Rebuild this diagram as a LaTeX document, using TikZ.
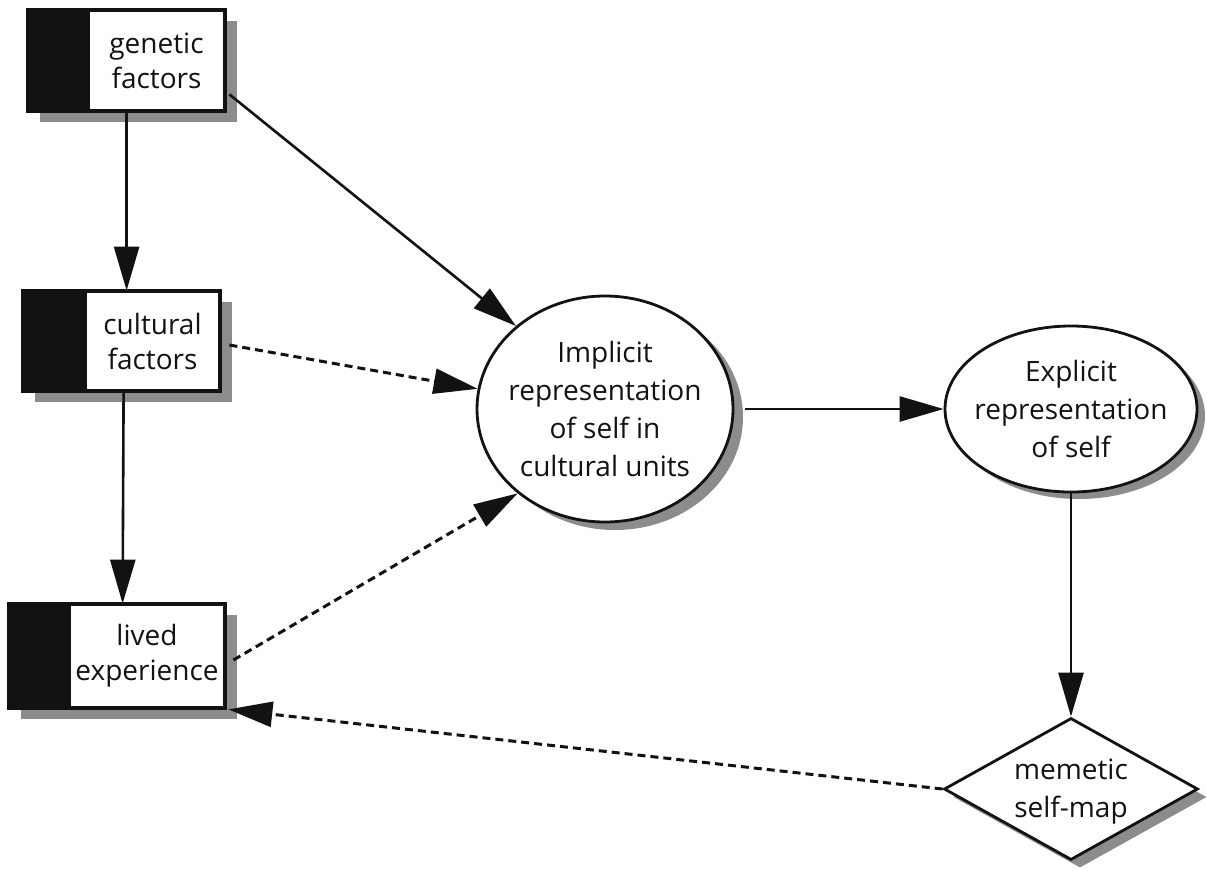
\documentclass[tikz,border=0pt]{standalone}
\usepackage{fontspec}
\setmainfont{Open Sans}
\usetikzlibrary{arrows.meta,shapes.geometric,calc,backgrounds}
\definecolor{shad}{gray}{0.55}
\definecolor{ink}{gray}{0.07}
\tikzset{
  lbl/.style={font=\fontsize{28}{38}\selectfont, align=center, text=ink, inner sep=0pt},
  wbox/.style={draw=ink, line width=2.8pt, fill=white, inner sep=0pt, font=\fontsize{28}{35}\selectfont, align=center, text=ink},
  elli/.style={ellipse, draw=ink, line width=2.8pt, fill=white, inner sep=0pt},
  dia/.style={diamond, draw=ink, line width=2.8pt, fill=white, inner sep=0pt},
  conn/.style={draw=ink, line width=2.6pt, -{Triangle[length=44pt,width=25pt]}},
  dconn/.style={conn, line width=3pt, dash pattern=on 8pt off 5pt},
}
\begin{document}
\begin{tikzpicture}[x=1pt,y=-1pt]
\useasboundingbox (0,0) rectangle (1207,871);

% boxes
\node[wbox, minimum width=135pt, minimum height=99pt] (gen) at (156.5,60.5) {genetic\\factors};
\node[wbox, minimum width=133pt, minimum height=98pt] (cul) at (152.5,341) {cultural\\factors};
\node[wbox, minimum width=154pt, minimum height=102pt] (liv) at (147,656) {lived\\experience};

\fill[ink] (gen.north west) rectangle ($(gen.south west)+(-60,0)$);
\draw[ink, line width=2.8pt] ($(gen.north west)+(-60,0)$) rectangle (gen.south east);
\fill[ink] (cul.north west) rectangle ($(cul.south west)+(-62,0)$);
\draw[ink, line width=2.8pt] ($(cul.north west)+(-62,0)$) rectangle (cul.south east);
\fill[ink] (liv.north west) rectangle ($(liv.south west)+(-60,0)$);
\draw[ink, line width=2.8pt] ($(liv.north west)+(-60,0)$) rectangle (liv.south east);

% ellipses and diamond
\node[elli, minimum width=256pt, minimum height=226pt] (imp) at (605,409) {};
\node[lbl] (impt) at (imp) {Implicit\\representation\\of self in\\cultural units};
\node[elli, minimum width=252pt, minimum height=166pt] (exp) at (1071,409) {};
\node[lbl] (expt) at (exp) {Explicit\\representation\\of self};
\node[dia, minimum width=254pt, minimum height=142pt] (mem) at (1071,789) {};
\node[lbl] (memt) at ($(mem)+(0,3)$) {memetic\\self-map};

% shadows
\begin{pgfonlayer}{background}
  \fill[shad] ($(gen.north west)+(-48,11)$) rectangle ($(gen.south east)+(12,11)$);
  \fill[shad] ($(cul.north west)+(-50,11)$) rectangle ($(cul.south east)+(12,11)$);
  \fill[shad] ($(liv.north west)+(-48,11)$) rectangle ($(liv.south east)+(12,11)$);
  \node[elli, draw=none, fill=shad, minimum width=256pt, minimum height=226pt] (imps) at ($(imp)+(10,8)$) {};
  \node[elli, draw=none, fill=shad, minimum width=252pt, minimum height=166pt] (exps) at ($(exp)+(8,7)$) {};
  \node[dia, draw=none, fill=shad, minimum width=254pt, minimum height=142pt] (mems) at ($(mem)+(9,8)$) {};
\end{pgfonlayer}

% connectors
\draw[conn] ($(gen.south west)+(39,0)$) -- ($(cul.north west)+(42,0)$);
\draw[conn] ($(cul.south west)+(39,0)$) -- ($(liv.north west)+(54,0)$);
\draw[conn] ($(gen.south east)+(4,-17)$) -- (imp.137);
\draw[dconn] ($(cul.east)+(9,4)$) -- (imp.171);
\draw[dconn] ($(liv.east)+(8,4)$) -- (imp.224);
\draw[conn] ($(imp.east)+(11,0)$) -- (exp.west);
\draw[conn] (exp.south) -- (mem.north);
\draw[dconn] (mem.west) -- ($(liv.south east)+(3,1)$);
\end{tikzpicture}
\end{document}
